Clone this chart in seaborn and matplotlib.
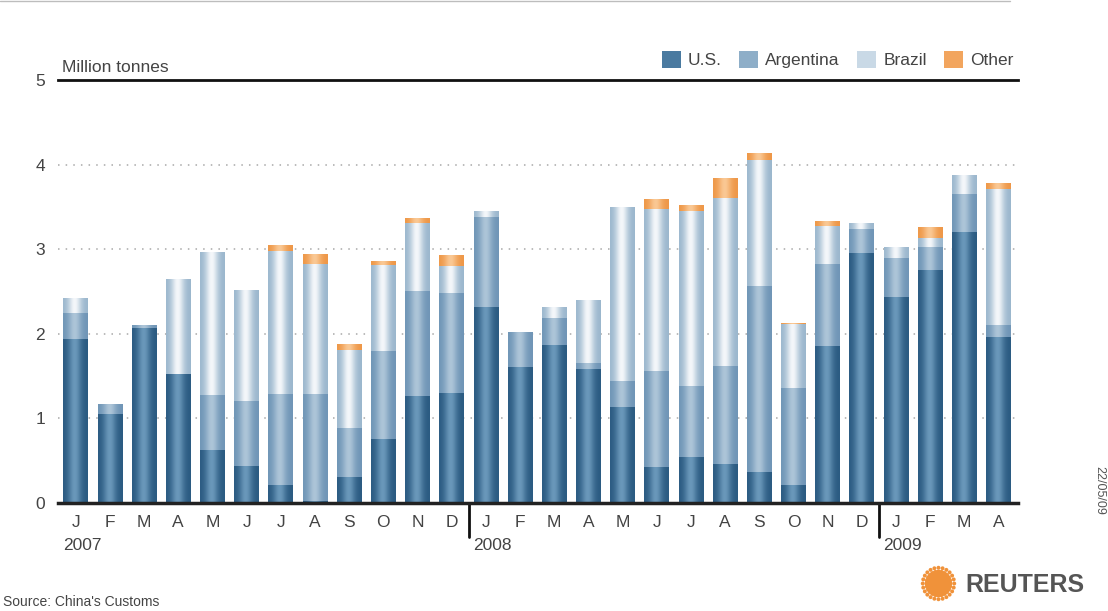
import numpy as np
import pandas as pd
import matplotlib.pyplot as plt
import seaborn as sns
from matplotlib.colors import to_rgb
from matplotlib.patches import Patch

# === Datos (millones de toneladas) ===
months = ["2007-%02d" % m for m in range(1, 13)] + \
         ["2008-%02d" % m for m in range(1, 13)] + \
         ["2009-%02d" % m for m in range(1, 5)]
month_letters = list("JFMAMJJASOND") * 2 + list("JFMA")
years = ["2007", "2008", "2009"]

us = [1.94, 1.05, 2.07, 1.52, 0.62, 0.44, 0.21, 0.02, 0.31, 0.76, 1.26, 1.30,
      2.32, 1.61, 1.87, 1.58, 1.13, 0.42, 0.54, 0.46, 0.36, 0.21, 1.85, 2.96,
      2.44, 2.75, 3.20, 1.96]
argentina = [0.31, 0.11, 0.03, 0.00, 0.66, 0.76, 1.08, 1.27, 0.57, 1.03, 1.24, 1.18,
             1.06, 0.41, 0.32, 0.07, 0.31, 1.14, 0.84, 1.16, 2.20, 1.15, 0.98, 0.28,
             0.46, 0.27, 0.45, 0.14]
brazil = [0.17, 0.00, 0.00, 1.12, 1.68, 1.31, 1.69, 1.53, 0.93, 1.02, 0.81, 0.32,
          0.07, 0.00, 0.12, 0.74, 2.05, 1.91, 2.07, 1.98, 1.50, 0.76, 0.44, 0.06,
          0.13, 0.11, 0.22, 1.61]
other = [0.00, 0.00, 0.00, 0.00, 0.00, 0.00, 0.06, 0.11, 0.07, 0.04, 0.05, 0.13,
         0.00, 0.00, 0.00, 0.00, 0.00, 0.11, 0.06, 0.23, 0.08, 0.01, 0.05, 0.00,
         0.00, 0.13, 0.00, 0.06]

series = ["U.S.", "Argentina", "Brazil", "Other"]
values = [us, argentina, brazil, other]
# (borde, centro) de cada serie para el degradado horizontal
edge_colors = ["#2a5a81", "#6f95b6", "#9ab6cd", "#ee9747"]
center_colors = ["#6a98ba", "#adc5d8", "#f4f7fa", "#fac894"]


def shade_bars(ax, patches, c_edge, c_center):
    """Dibuja un degradado horizontal encima de cada barra."""
    t = np.linspace(0, 1, 64)
    prof = np.exp(-((t - 0.47) / 0.26) ** 2)
    e = np.array(to_rgb(c_edge))
    c = np.array(to_rgb(c_center))
    rgb = e[None, :] * (1 - prof[:, None]) + c[None, :] * prof[:, None]
    img = rgb[None, :, :]
    for p in patches:
        h = p.get_height()
        if h <= 0:
            continue
        x0, y0, w = p.get_x(), p.get_y(), p.get_width()
        ax.imshow(img, extent=[x0, x0 + w, y0, y0 + h], aspect="auto",
                  interpolation="bilinear", zorder=2)
        p.set_visible(False)


def main():
    sns.set_theme(style="white")
    plt.rcParams["font.family"] = ["Liberation Sans", "DejaVu Sans"]
    text_col = "#444444"

    df = pd.DataFrame({"month": months, "U.S.": us, "Argentina": argentina,
                       "Brazil": brazil, "Other": other})

    fig = plt.figure(figsize=(11.08, 6.11), dpi=100)
    ax = fig.add_axes([0.052, 0.177, 0.867, 0.692])

    bottom = np.zeros(len(months))
    for name, vals, ce, cc in zip(series, values, edge_colors, center_colors):
        n0 = len(ax.patches)
        sns.barplot(data=df, x="month", y=name, order=months, color=ce,
                    saturation=1, width=0.72, linewidth=0, errorbar=None,
                    bottom=bottom.copy(), ax=ax)
        shade_bars(ax, ax.patches[n0:], ce, cc)
        bottom += np.array(vals)

    ax.set_xlim(-0.53, 27.58)
    ax.set_ylim(0, 5)
    ax.set_yticks(range(6))
    ax.set_xlabel("")
    ax.set_ylabel("")
    ax.set_xticks(range(len(months)))
    ax.set_xticklabels(month_letters)
    ax.tick_params(axis="both", length=0, labelsize=12.5, colors=text_col)
    ax.tick_params(axis="x", pad=9)
    ax.tick_params(axis="y", pad=9)

    ax.set_axisbelow(True)
    ax.yaxis.grid(True, color="#a8a8a8", linestyle=(0, (1, 4)), linewidth=1.1)
    ax.xaxis.grid(False)
    for s in ["left", "right"]:
        ax.spines[s].set_visible(False)
    ax.spines["top"].set_color("#111111")
    ax.spines["top"].set_linewidth(2)
    ax.spines["bottom"].set_color("#222222")
    ax.spines["bottom"].set_linewidth(2.5)
    ax.spines["bottom"].set_zorder(3)

    # separadores de año y etiquetas
    trans = ax.get_xaxis_transform()
    for xs in [11.5, 23.5]:
        ax.plot([xs, xs], [0, -0.08], color="#111111", lw=2,
                transform=trans, clip_on=False)
    for xs, yr in zip([0, 12, 24], years):
        ax.text(xs - 0.38, -0.102, yr, transform=trans, ha="left", va="center",
                fontsize=12.5, color=text_col)

    ax.text(0.005, 1.012, "Million tonnes", transform=ax.transAxes,
            ha="left", va="bottom", fontsize=12.5, color=text_col)

    mids = ["#4a7aa0", "#8eaec8", "#c9d9e6", "#f2a55e"]
    handles = [Patch(facecolor=m, edgecolor="none") for m in mids]
    ax.legend(handles, series, ncol=4, loc="lower right",
              bbox_to_anchor=(1.006, 1.003), frameon=False, fontsize=12.5,
              handlelength=1.1, handleheight=1.1, handletextpad=0.4,
              columnspacing=1.0, labelcolor=text_col, borderaxespad=0.2)

    # textos de pie
    fig.text(0.003, 0.015, "Source: China's Customs", fontsize=10,
             color=text_col, ha="left", va="center")
    fig.text(0.992, 0.198, "22/05/09", fontsize=9, color="#555555",
             rotation=270, ha="center", va="center")
    fig.text(0.871, 0.043, "REUTERS", fontsize=18, fontweight="bold",
             color="#555555", ha="left", va="center")
    logo = fig.add_axes([0.830, 0.015, 0.034, 0.060])
    ang = np.linspace(0, 2 * np.pi, 24, endpoint=False)
    for r, s in [(0.0, 90), (0.35, 22), (0.62, 14), (0.86, 8)]:
        logo.scatter(r * np.cos(ang), r * np.sin(ang), s=s, color="#f0923a",
                     edgecolor="none")
    logo.set_xlim(-1, 1)
    logo.set_ylim(-1, 1)
    logo.set_aspect("equal")
    logo.axis("off")

    fig.add_artist(plt.Line2D([0, 0.912], [0.998, 0.998], color="#bdbdbd",
                              lw=1, transform=fig.transFigure))

    fig.savefig("out.png", dpi=100)
    plt.close(fig)


if __name__ == "__main__":
    main()
